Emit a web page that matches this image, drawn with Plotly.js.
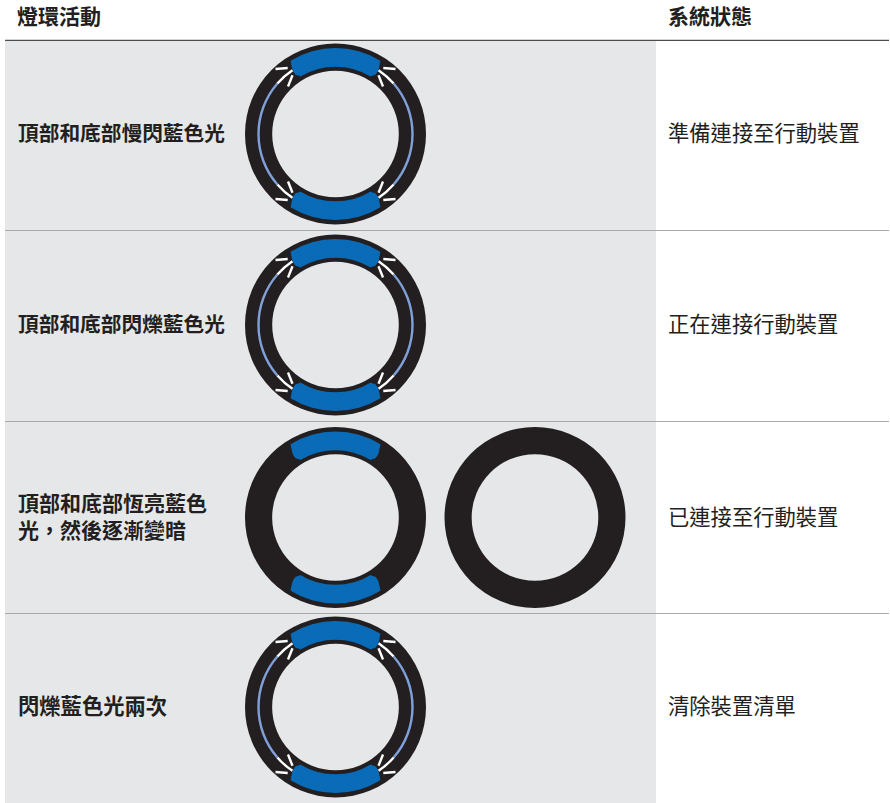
<!DOCTYPE html>
<html><head><meta charset="utf-8">
<script src="https://cdn.plot.ly/plotly-3.0.1.min.js"></script>
<style>html,body{margin:0;padding:0;background:#fff}</style>
</head><body><div id="chart" style="width:890px;height:803px"></div>
<script>
// ---- content ----
const headers = ['燈環活動', '系統狀態'];
const activities = ['頂部和底部慢閃藍色光', '頂部和底部閃爍藍色光', '頂部和底部恆亮藍色<br>光，然後逐漸變暗', '閃爍藍色光兩次'];
const statuses = ['準備連接至行動裝置', '正在連接行動裝置', '已連接至行動裝置', '清除裝置清單'];
const rowLines = [230.5, 421.5, 613.5];
const rowCenters = [134, 325, 517.5, 707];
const ringKinds = ['blink', 'blink', 'steady', 'blink'];
// half-span in degrees of the blue arc: main body, then the slight bulge bands
const blueHalfSpan = [31.5, 32, 32.6, 33.1, 33.6, 34];
const thinArc = [34, 15, 82, 15, 68, 15, 82, 15, 34];

// ---- styles ----
const W = 890, H = 803, CX = 335.5, CX2 = 535, TEXT_DY = 2;
const FONT = '"Noto Sans CJK TC", "Noto Sans CJK SC", sans-serif';
const DARK = '#231f20', BLUE = '#0a6cb8', GREY = '#e6e7e8', THIN = '#7fa0d8', NONE = 'rgba(0,0,0,0)';
const thinColors = [NONE, '#ffffff', THIN, '#ffffff', NONE, '#ffffff', THIN, '#ffffff', NONE];
const blueBands = [[86, 67.3], [85, 68], [83, 69], [81, 69.7], [79, 70.5], [77, 71.5]];
const activitySizes = [20.7, 20.7, 21, 21.3];

function donut(cx, cy, rOut, rIn, values, colors, rotation) {
  return {
    type: 'pie', values, sort: false, direction: 'clockwise', rotation,
    hole: rIn / rOut, textinfo: 'none', hoverinfo: 'skip', showlegend: false,
    marker: {colors, line: {width: 0}},
    domain: {x: [(cx - rOut) / W, (cx + rOut) / W], y: [1 - (cy + rOut) / H, 1 - (cy - rOut) / H]}
  };
}
function textTrace(xPos, ys, texts, bold, size) {
  return {
    type: 'scatter', mode: 'text', x: ys.map(() => xPos), y: ys, text: texts,
    textposition: 'middle right', hoverinfo: 'skip', showlegend: false,
    textfont: {family: FONT, size, color: DARK, weight: bold ? 700 : 400}
  };
}

const traces = [];
traces.push({type: 'scatter', mode: 'lines', hoverinfo: 'skip', showlegend: false,
  x: [5, 889, null, 5, 889, null, 5, 889], y: rowLines.flatMap((y, i) => i < 2 ? [y, y, null] : [y, y]),
  line: {color: '#a7a9ac', width: 1.2}});
traces.push({type: 'scatter', mode: 'lines', hoverinfo: 'skip', showlegend: false,
  x: [5, 889], y: [40.3, 40.3], line: {color: '#4d4d4f', width: 1.3}});
traces.push(textTrace(17, [19], [headers[0]], true, 21));
traces.push(textTrace(668, [19], [headers[1]], true, 21));
activities.forEach((t, i) => traces.push(textTrace(18, [rowCenters[i] + TEXT_DY - (i === 2 ? 0.5 : 0)], [t], true, activitySizes[i])));
traces.push(textTrace(668, rowCenters.map(y => y + TEXT_DY), statuses, false, 21.3));

const shapes = [{type: 'rect', xref: 'x', yref: 'y', x0: 5, x1: 656, y0: 41, y1: 803,
  fillcolor: GREY, line: {width: 0}, layer: 'below'}];

function tick(x0, y0, x1, y1) {
  return {type: 'line', xref: 'x', yref: 'y', x0, y0, x1, y1, line: {color: '#ffffff', width: 2.4}, layer: 'above'};
}
rowCenters.forEach((cy, i) => {
  traces.push(donut(CX, cy, 90.5, 63.3, [1], [DARK], 0));
  blueBands.forEach((band, b) => {
    const h = blueHalfSpan[b];
    traces.push(donut(CX, cy, band[0], band[1], [2 * h, 180 - 2 * h, 2 * h, 180 - 2 * h], [BLUE, NONE, BLUE, NONE], -h));
  });
  if (ringKinds[i] === 'blink') {
    traces.push(donut(CX, cy, 78.2, 75.8, thinArc, thinColors, 0));
    [-1, 1].forEach(sx => [-1, 1].forEach(sy => {
      shapes.push(tick(CX + sx * 60, cy + sy * 65, CX + sx * 47.8, cy + sy * 66));
      shapes.push(tick(CX + sx * 43, cy + sy * 58.8, CX + sx * 47.5, cy + sy * 47.5));
    }));
  } else {
    traces.push(donut(CX2, cy, 90.5, 63.3, [1], [DARK], 0));
  }
});

Plotly.newPlot('chart', traces, {
  width: W, height: H, margin: {l: 0, r: 0, t: 0, b: 0}, showlegend: false,
  paper_bgcolor: '#ffffff', plot_bgcolor: '#ffffff',
  xaxis: {range: [0, W], visible: false, fixedrange: true},
  yaxis: {range: [H, 0], visible: false, fixedrange: true},
  shapes
}, {displayModeBar: false, staticPlot: true});
</script></body></html>
